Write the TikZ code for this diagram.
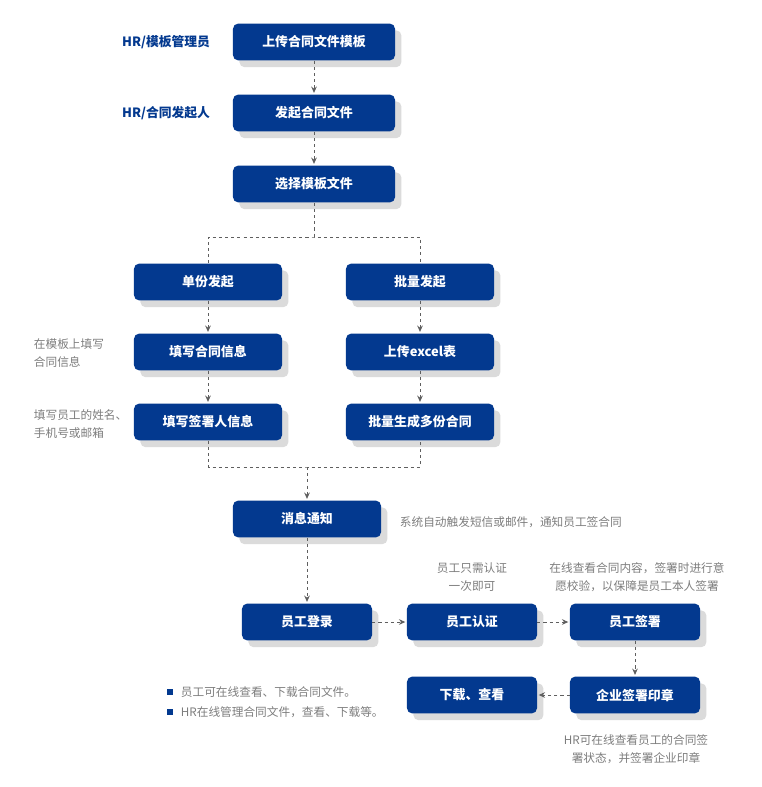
\documentclass[tikz,border=0pt]{standalone}
\usepackage{fontspec}
\setmainfont{Noto Sans CJK SC}
\usepackage{xcolor}
\usetikzlibrary{arrows.meta, shadows}

\definecolor{hrblue}{RGB}{3,57,143}
\definecolor{notegray}{RGB}{125,125,125}
\definecolor{linegray}{RGB}{95,95,95}

\begin{document}
\begin{tikzpicture}[x=0.025cm, y=-0.025cm,
    >={Stealth[length=4.5pt, width=4pt]},
    box/.style={fill=hrblue, text=white, rounded corners=0.13cm,
        minimum height=0.92cm, font=\fontsize{9.2pt}{11pt}\selectfont\bfseries,
        drop shadow={shadow xshift=0.16cm, shadow yshift=-0.17cm, fill=black!14, opacity=1}},
    wide/.style={box, minimum width=4.05cm},
    mid/.style={box, minimum width=3.7cm},
    small/.style={box, minimum width=3.25cm},
    role/.style={text=hrblue, font=\fontsize{9.1pt}{11pt}\selectfont\bfseries},
    note/.style={text=notegray, font=\fontsize{8.3pt}{12.8pt}\selectfont},
    line/.style={draw=linegray, line width=0.7pt, dash pattern=on 2.2pt off 2.2pt},
    link/.style={line, ->, shorten >=1pt}]
    \useasboundingbox (0,0) rectangle (761,787);

    % obere Kette
    \node[wide] (upload) at (314,42)  {上传合同文件模板};
    \node[wide] (launch) at (314,113) {发起合同文件};
    \node[wide] (choose) at (314,184) {选择模板文件};
    \node[role, anchor=east] (lblAdmin)  at (215,42)  {HR/模板管理员};
    \node[role, anchor=east] (lblLaunch) at (215,113) {HR/合同发起人};

    % zwei Zweige
    \node[mid] (single)     at (208,282) {单份发起};
    \node[mid] (batch)      at (420,282) {批量发起};
    \node[mid] (fillinfo)   at (208,352) {填写合同信息};
    \node[mid] (uploadxls)  at (420,352) {上传excel表};
    \node[mid] (fillsigner) at (208,422) {填写签署人信息};
    \node[mid] (generate)   at (420,422) {批量生成多份合同};
    \node[note, anchor=west, align=left] (noteInfo)   at (29,353) {在模板上填写\\合同信息};
    \node[note, anchor=west, align=left] (noteSigner) at (29,424) {填写员工的姓名、\\手机号或邮箱};

    % Benachrichtigung und Unterzeichnung
    \node[mid] (notify) at (307,519) {消息通知};
    \node[note, anchor=west] (noteNotify) at (395,522) {系统自动触发短信或邮件，通知员工签合同};
    \node[small] (login)    at (307,622) {员工登录};
    \node[small] (verify)   at (472,622) {员工认证};
    \node[small] (sign)     at (635,622) {员工签署};
    \node[small] (seal)     at (635,695) {企业签署印章};
    \node[small] (download) at (472,695) {下载、查看};
    \node[note, align=center] (noteVerify) at (472,577) {员工只需认证\\一次即可};
    \node[note, align=center] (noteSign)   at (637,577) {在线查看合同内容，签署时进行意\\愿校验，以保障是员工本人签署};
    \node[note, align=center] (noteSeal)   at (636,749) {HR可在线查看员工的合同签\\署状态，并签署企业印章};

    % Aufzaehlung
    \node[fill=hrblue, inner sep=0pt, minimum size=0.14cm] (dotA) at (170,692) {};
    \node[fill=hrblue, inner sep=0pt, minimum size=0.14cm] (dotB) at (170,712) {};
    \node[note, anchor=west] (listA) at (176,692) {员工可在线查看、下载合同文件。};
    \node[note, anchor=west] (listB) at (176,712) {HR在线管理合同文件，查看、下载等。};

    % Verbindungen
    \coordinate (split) at (314,237);
    \coordinate (merge) at (307,467);
    \draw[link] (upload) -- (launch);
    \draw[link] (launch) -- (choose);
    \draw[line] (choose) -- (split);
    \draw[line] (single.north) |- (split) -| (batch.north);
    \draw[link] (single) -- (fillinfo);
    \draw[link] (fillinfo) -- (fillsigner);
    \draw[link] (batch) -- (uploadxls);
    \draw[link] (uploadxls) -- (generate);
    \draw[line] (fillsigner.south) |- (merge) -| (generate.south);
    \draw[link] (merge) -- (notify);
    \draw[link] (notify) -- (login);
    \draw[link] (login) -- (verify);
    \draw[link] (verify) -- (sign);
    \draw[link] (sign) -- (seal);
    \draw[link] (seal) -- (download);
\end{tikzpicture}
\end{document}
